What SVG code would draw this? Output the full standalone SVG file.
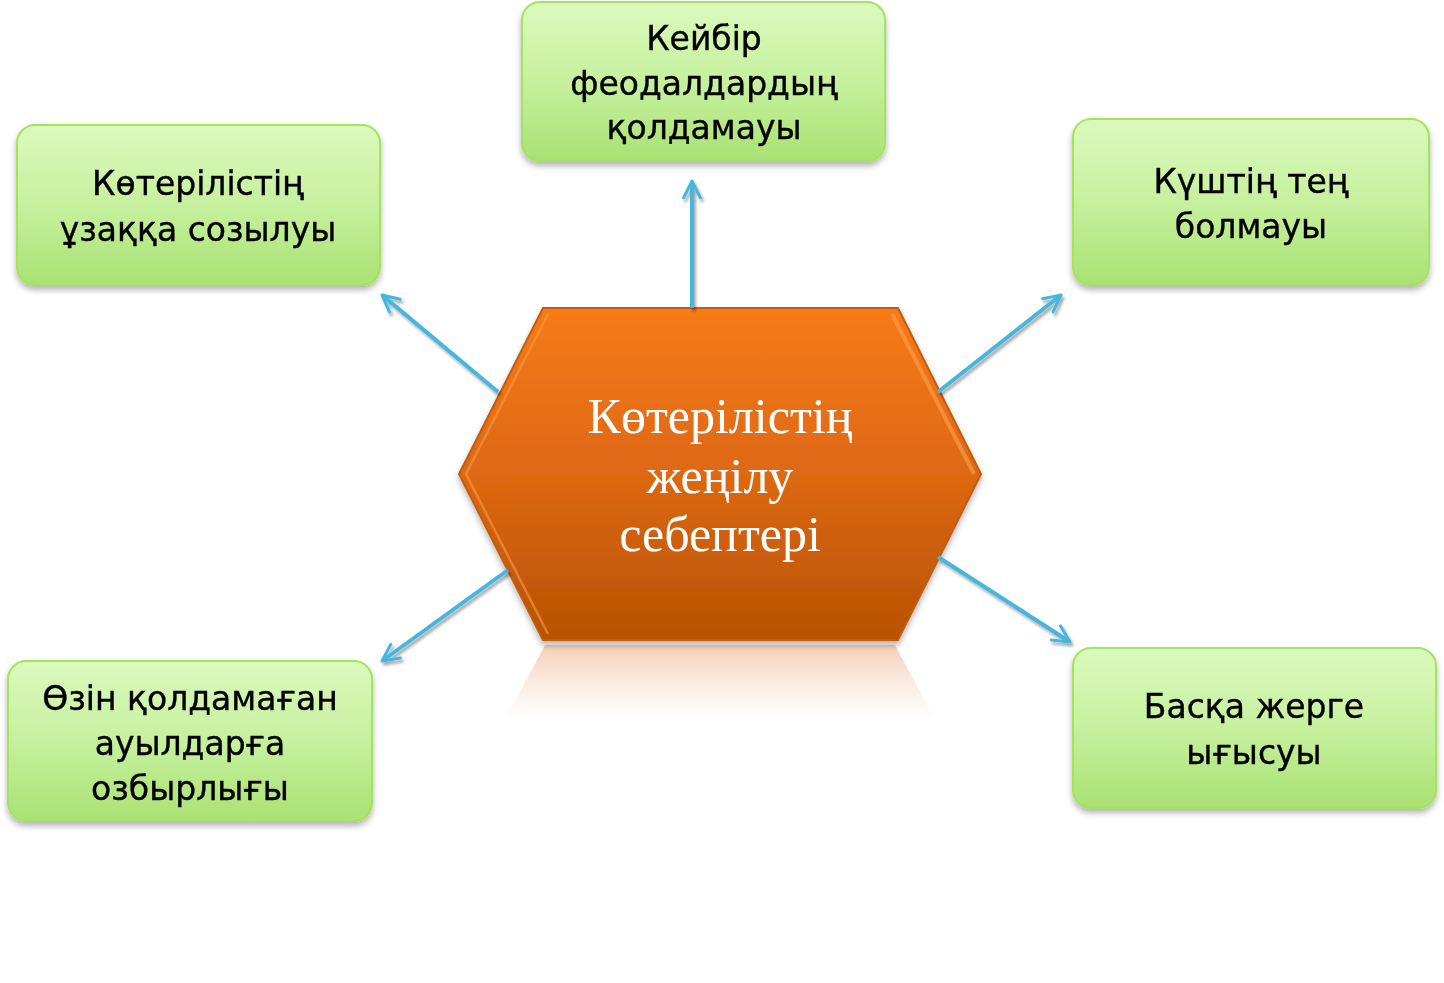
<svg xmlns="http://www.w3.org/2000/svg" width="1444" height="983" viewBox="0 0 1444 983">
<defs>
<linearGradient id="gGreen" x1="0" y1="0" x2="0" y2="1">
<stop offset="0" stop-color="#dbfabe"/>
<stop offset="0.5" stop-color="#c6f09e"/>
<stop offset="1" stop-color="#a9e273"/>
</linearGradient>
<linearGradient id="gOrange" x1="0" y1="0" x2="0" y2="1">
<stop offset="0" stop-color="#f77b18"/>
<stop offset="0.5" stop-color="#dd6812"/>
<stop offset="1" stop-color="#b85202"/>
</linearGradient>
<linearGradient id="gRefl" x1="0" y1="0" x2="0" y2="1">
<stop offset="0" stop-color="#e8a77c" stop-opacity="0.55"/>
<stop offset="1" stop-color="#f4c9a8" stop-opacity="0"/>
</linearGradient>
<filter id="shadow" x="-10%" y="-10%" width="120%" height="130%">
<feGaussianBlur in="SourceAlpha" stdDeviation="3"/>
<feOffset dx="0" dy="4" result="b"/>
<feComponentTransfer><feFuncA type="linear" slope="0.3"/></feComponentTransfer>
<feMerge><feMergeNode/><feMergeNode in="SourceGraphic"/></feMerge>
</filter>
<filter id="ashadow" x="-20%" y="-20%" width="140%" height="140%">
<feGaussianBlur in="SourceAlpha" stdDeviation="1.5"/>
<feOffset dx="2" dy="3"/>
<feComponentTransfer><feFuncA type="linear" slope="0.35"/></feComponentTransfer>
<feMerge><feMergeNode/><feMergeNode in="SourceGraphic"/></feMerge>
</filter>
<marker id="arr" viewBox="0 0 20 20" refX="17" refY="10" markerWidth="6" markerHeight="6" orient="auto" markerUnits="strokeWidth">
<path d="M3,3 L17,10 L3,17" fill="none" stroke="#47b6df" stroke-width="2.5" stroke-linecap="round" stroke-linejoin="round"/>
</marker>
</defs>
<style>
.box{fill:url(#gGreen);stroke:#a4e35c;stroke-width:2}
.lbl{font-family:"DejaVu Sans","Liberation Sans",sans-serif;font-size:33px;fill:#000;text-anchor:middle;stroke:#000;stroke-width:0.4}
.ctr{font-family:"Liberation Serif","Times New Roman",serif;font-size:50px;fill:#fff;text-anchor:middle}
.con{stroke:#47b6df;stroke-width:4;fill:none;marker-end:url(#arr)}
</style>
<g id="reflection">
<path d="M545,645 L895,645 L935,720 L505,720 Z" fill="url(#gRefl)"/>
</g>
<g id="center" filter="url(#shadow)">
<polygon points="543,308 898,308 981,474 898,640 543,640 459,474" fill="url(#gOrange)" stroke="#c35b0a" stroke-width="2"/>
<polyline points="548,314 466,474 548,634" fill="none" stroke="#fb9a44" stroke-width="2.5" opacity="0.6"/>
<polyline points="892,314 974,474" fill="none" stroke="#fb9a44" stroke-width="4" opacity="0.7"/>
<text class="ctr" x="720" y="433">Көтерілістің</text>
<text class="ctr" x="720" y="493">жеңілу</text>
<text class="ctr" x="720" y="551">себептері</text>
</g>
<g id="connectors" filter="url(#ashadow)">
<line class="con" x1="692" y1="308" x2="692" y2="181"/>
<line class="con" x1="498" y1="392" x2="382" y2="295"/>
<line class="con" x1="938" y1="392" x2="1061" y2="295"/>
<line class="con" x1="508" y1="570" x2="382" y2="661"/>
<line class="con" x1="938" y1="557" x2="1070" y2="642"/>
</g>
<g id="n1" filter="url(#shadow)">
<rect class="box" x="522" y="2" width="363" height="159" rx="18"/>
<text class="lbl" x="704" y="50">Кейбір</text>
<text class="lbl" x="704" y="95">феодалдардың</text>
<text class="lbl" x="704" y="139">қолдамауы</text>
</g>
<g id="n2" filter="url(#shadow)">
<rect class="box" x="17" y="125" width="363" height="160" rx="18"/>
<text class="lbl" x="198" y="195">Көтерілістің</text>
<text class="lbl" x="198" y="241">ұзаққа созылуы</text>
</g>
<g id="n3" filter="url(#shadow)">
<rect class="box" x="1073" y="119" width="356" height="166" rx="18"/>
<text class="lbl" x="1251" y="193">Күштің тең</text>
<text class="lbl" x="1251" y="238">болмауы</text>
</g>
<g id="n4" filter="url(#shadow)">
<rect class="box" x="8" y="661" width="364" height="160" rx="18"/>
<text class="lbl" x="190" y="710">Өзін қолдамаған</text>
<text class="lbl" x="190" y="755">ауылдарға</text>
<text class="lbl" x="190" y="800">озбырлығы</text>
</g>
<g id="n5" filter="url(#shadow)">
<rect class="box" x="1073" y="648" width="363" height="160" rx="18"/>
<text class="lbl" x="1254" y="718">Басқа жерге</text>
<text class="lbl" x="1254" y="764">ығысуы</text>
</g>
</svg>
